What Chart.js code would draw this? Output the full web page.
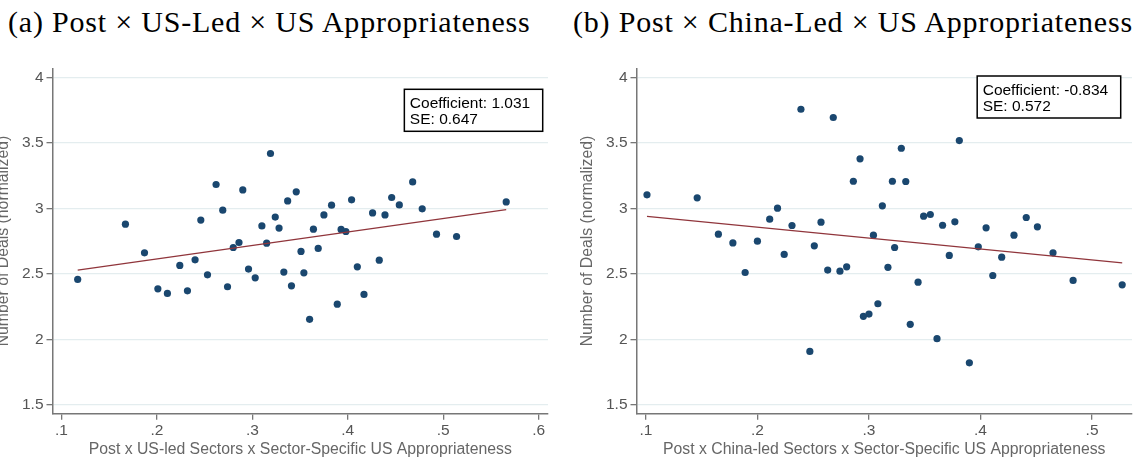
<!DOCTYPE html>
<html>
<head>
<meta charset="utf-8">
<script src="https://cdn.jsdelivr.net/npm/chart.js@4"></script>
<style>
  body { margin:0; width:1138px; height:463px; overflow:hidden; background:#fff; position:relative; }
  .titulo { position:absolute; top:5px; font-family:"Liberation Serif", serif; font-size:30px; letter-spacing:0.8px; color:#000; white-space:nowrap; }
  canvas { position:absolute; top:0; }
</style>
</head>
<body>
<div class="titulo" style="left:8px">(a) Post × US-Led × US Appropriateness</div>
<div class="titulo" style="left:573px">(b) Post × China-Led × US Appropriateness</div>
<canvas id="chartUS" style="left:-10px"></canvas>
<canvas id="chartCN" style="left:574px"></canvas>
<script>
// panel (a): US-led sectors
const usX = [0.117,0.167,0.187,0.201,0.211,0.224,0.232,0.240,0.246,0.253,0.262,0.269,0.274,0.280,0.286,0.290,0.296,0.303,0.310,0.315,
  0.319,0.324,0.328,0.333,0.337,0.341,0.346,0.351,0.354,0.360,0.364,0.369,0.375,0.383,0.389,0.393,0.398,0.404,0.410,0.417,
  0.426,0.433,0.439,0.446,0.454,0.468,0.478,0.493,0.514,0.566]
const usY = [2.458,2.880,2.661,2.386,2.351,2.565,2.371,2.608,2.911,2.493,3.183,2.987,2.402,2.702,2.740,3.142,2.537,2.470,2.867,2.735,
  3.420,2.934,2.850,2.514,3.058,2.409,3.127,2.672,2.508,2.153,2.842,2.695,2.951,3.025,2.269,2.840,2.824,3.066,2.554,2.343,
  2.966,2.605,2.951,3.084,3.027,3.203,2.997,2.804,2.786,3.050]
const usXTicks = [0.1,0.2,0.3,0.4,0.5,0.6]
const usCoef = 1.031
const usSE = 0.647
const usIntercept = 2.408

// panel (b): China-led sectors
const cnX = [0.101,0.146,0.165,0.178,0.189,0.200,0.211,0.218,0.224,0.231,0.239,0.247,0.251,0.257,0.263,0.268,0.274,0.280,0.286,0.292,
  0.295,0.300,0.304,0.308,0.312,0.317,0.321,0.323,0.329,0.333,0.337,0.344,0.349,0.355,0.361,0.366,0.372,0.377,0.381,0.390,
  0.398,0.405,0.411,0.419,0.430,0.441,0.451,0.465,0.483,0.527]
const cnY = [3.104,3.081,2.804,2.737,2.511,2.750,2.918,3.002,2.649,2.870,3.758,1.908,2.715,2.895,2.529,3.695,2.521,2.554,3.208,3.379,
  2.176,2.193,2.796,2.272,3.020,2.550,3.208,2.702,3.460,3.206,2.115,2.437,2.941,2.954,2.005,2.872,2.641,2.898,3.519,1.821,
  2.707,2.852,2.488,2.628,2.796,2.931,2.860,2.661,2.450,2.417]
const cnXTicks = [0.1,0.2,0.3,0.4,0.5]
const cnCoef = -0.834
const cnSE = 0.572
const cnIntercept = 3.024

const yTicks = [1.5,2,2.5,3,3.5,4]

Chart.defaults.font.family = '"Liberation Sans", Arial, sans-serif'
Chart.defaults.font.size = 15.5
Chart.defaults.color = '#555'

const cajaPlugin = {
  id: 'caja',
  afterDraw(chart, args, opts) {
    const {ctx, chartArea} = chart
    ctx.save()
    ctx.font = '15.5px "Liberation Sans", Arial, sans-serif'
    const w = Math.max(...opts.lineas.map(l => ctx.measureText(l).width)) + 18
    const x = chartArea.right - opts.derecha - w
    const y = chartArea.top + opts.arriba
    ctx.fillStyle = '#fff'
    ctx.fillRect(x, y, w, 42)
    ctx.strokeStyle = '#000'
    ctx.lineWidth = 1.5
    ctx.strokeRect(x, y, w, 42)
    ctx.fillStyle = '#000'
    ctx.textBaseline = 'middle'
    opts.lineas.forEach((l, i) => ctx.fillText(l, x + 5.5, y + 14.5 + i * 16))
    ctx.restore()
  }
}

const crearGrafico = (id, ancho, xs, ys, xTicks, xMin, xMax, coef, intercepto, se, caja, tituloX) => {
  const canvas = document.getElementById(id)
  canvas.width = ancho
  canvas.height = 463
  canvas.style.width = ancho + 'px'
  canvas.style.height = '463px'
  const puntos = xs.map((x, i) => ({x: x, y: ys[i]}))
  const x0 = Math.min(...xs)
  const x1 = Math.max(...xs)
  const ajuste = [{x: x0, y: intercepto + coef * x0}, {x: x1, y: intercepto + coef * x1}]
  new Chart(canvas.getContext('2d'), {
    type: 'scatter',
    data: {
      datasets: [
        {data: ajuste, showLine: true, borderColor: '#90353b', borderWidth: 1.3, pointRadius: 0},
        {data: puntos, backgroundColor: '#1a476f', borderWidth: 0, pointRadius: 3.6}
      ]
    },
    options: {
      responsive: false,
      animation: false,
      devicePixelRatio: 1,
      layout: {padding: {top: 68.3, right: caja.padDer, left: 0, bottom: 0}},
      plugins: {
        legend: {display: false},
        tooltip: {enabled: false},
        caja: caja
      },
      scales: {
        x: {
          type: 'linear', min: xMin, max: xMax,
          afterBuildTicks: s => { s.ticks = xTicks.map(v => ({value: v})) },
          afterFit: s => { s.height = 49.3 },
          ticks: {padding: 2, color: '#555', callback: v => String(v).replace(/^0/, '')},
          grid: {drawOnChartArea: false, tickLength: 6, tickColor: '#777', lineWidth: 1.3},
          border: {color: '#777', width: 1.5},
          title: {display: true, text: tituloX, color: '#666', font: {size: 15.8}, padding: {top: 0, bottom: 3.7}}
        },
        y: {
          type: 'linear', min: 1.432, max: 4.071,
          afterBuildTicks: s => { s.ticks = yTicks.map(v => ({value: v})) },
          afterFit: s => { s.width = 62.5 },
          ticks: {padding: 3, color: '#555', callback: v => String(v)},
          grid: {color: '#e4edef', lineWidth: 1.3, tickLength: 6, tickColor: '#777'},
          border: {color: '#777', width: 1.5},
          title: {display: true, text: 'Number of Deals (normalized)', color: '#666', font: {size: 15.8}, padding: {top: 4.5, bottom: 0}}
        }
      }
    },
    plugins: [cajaPlugin]
  })
}

crearGrafico('chartUS', 563, usX, usY, usXTicks, 0.0906, 0.6098, usCoef, usIntercept, usSE,
  {lineas: ['Coefficient: ' + usCoef.toFixed(3), 'SE: ' + usSE.toFixed(3)], derecha: 5.3, arriba: 21, padDer: 5},
  'Post x US-led Sectors x Sector-Specific US Appropriateness')
crearGrafico('chartCN', 564, cnX, cnY, cnXTicks, 0.0916, 0.5358, cnCoef, cnIntercept, cnSE,
  {lineas: ['Coefficient: ' + cnCoef.toFixed(3), 'SE: ' + cnSE.toFixed(3)], derecha: 11.3, arriba: 7.7, padDer: 6},
  'Post x China-led Sectors x Sector-Specific US Appropriateness')
</script>
</body>
</html>
